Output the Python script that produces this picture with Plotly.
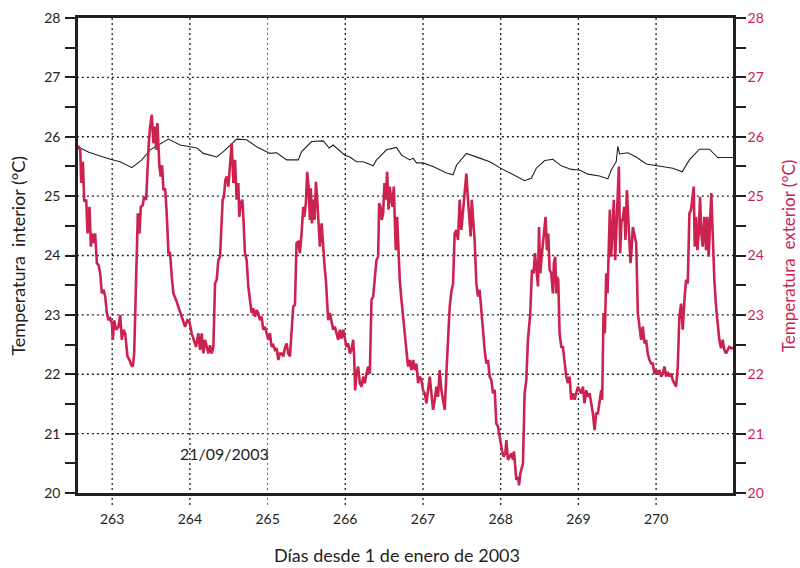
import plotly.graph_objects as go

# ---------------- data ----------------
x_ticks = [263, 264, 265, 266, 267, 268, 269, 270]
y_ticks = [20, 21, 22, 23, 24, 25, 26, 27, 28]
x_range = [262.56, 270.99]
y_range = [20, 28]
marked_day = 265
marked_label = "21/09/2003"
marked_label_day = 264.45
marked_label_temp = 20.67

# interior temperature (day, °C)
interior = [
    (262.56, 25.80), (262.589, 25.81), (262.70, 25.74), (262.888, 25.66), (262.974, 25.62),
    (263.103, 25.58), (263.253, 25.48), (263.382, 25.61), (263.488, 25.78), (263.724, 25.96),
    (263.874, 25.86), (264.089, 25.81), (264.174, 25.72), (264.346, 25.66), (264.431, 25.75),
    (264.603, 25.96), (264.731, 25.95), (264.860, 25.83), (265.031, 25.72), (265.117, 25.73),
    (265.246, 25.61), (265.395, 25.61), (265.438, 25.75), (265.567, 25.92), (265.716, 25.93),
    (265.793, 25.81), (265.844, 25.86), (265.995, 25.69), (266.059, 25.66), (266.145, 25.58),
    (266.230, 25.58), (266.359, 25.51), (266.402, 25.61), (266.531, 25.78), (266.659, 25.82),
    (266.724, 25.69), (266.830, 25.61), (266.873, 25.64), (266.916, 25.56), (267.001, 25.56),
    (267.130, 25.50), (267.302, 25.39), (267.387, 25.36), (267.431, 25.52), (267.559, 25.72),
    (267.730, 25.64), (267.859, 25.58), (267.987, 25.48), (268.116, 25.39), (268.158, 25.37),
    (268.308, 25.26), (268.394, 25.30), (268.459, 25.47), (268.566, 25.60), (268.672, 25.62),
    (268.780, 25.51), (268.909, 25.45), (269.015, 25.44), (269.122, 25.37), (269.272, 25.34),
    (269.379, 25.29), (269.423, 25.44), (269.487, 25.58), (269.508, 25.84), (269.530, 25.71),
    (269.636, 25.73), (269.744, 25.66), (269.873, 25.54), (270.087, 25.50), (270.215, 25.47),
    (270.335, 25.41), (270.429, 25.61), (270.558, 25.79), (270.686, 25.79), (270.793, 25.65),
    (270.99, 25.65),
]

# exterior temperature (day, °C)
exterior = [
    (262.560, 25.85), (262.567, 25.83), (262.589, 25.78), (262.601, 25.22), (262.623, 25.58),
    (262.640, 24.91), (262.666, 24.94), (262.683, 24.37), (262.708, 24.82), (262.726, 24.15),
    (262.743, 24.37), (262.760, 24.21), (262.781, 24.37), (262.803, 23.87), (262.824, 23.84),
    (262.846, 23.70), (262.867, 23.36), (262.888, 23.42), (262.910, 23.31), (262.931, 23.03),
    (262.953, 22.91), (262.974, 22.94), (262.996, 22.86), (263.008, 22.58), (263.025, 22.91),
    (263.051, 22.75), (263.081, 22.80), (263.103, 23.00), (263.124, 22.58), (263.145, 22.75),
    (263.167, 22.69), (263.197, 22.30), (263.223, 22.24), (263.244, 22.16), (263.265, 22.13),
    (263.283, 22.35), (263.304, 23.25), (263.317, 24.21), (263.330, 24.71), (263.351, 24.37),
    (263.368, 24.82), (263.394, 24.85), (263.411, 24.99), (263.437, 24.94), (263.454, 25.50),
    (263.471, 25.89), (263.488, 26.17), (263.510, 26.37), (263.531, 25.89), (263.552, 26.17),
    (263.565, 25.78), (263.582, 26.23), (263.608, 25.50), (263.625, 25.33), (263.642, 25.52),
    (263.660, 25.10), (263.681, 25.13), (263.702, 24.71), (263.724, 24.04), (263.745, 24.04),
    (263.767, 23.64), (263.788, 23.36), (263.822, 23.25), (263.852, 23.14), (263.874, 23.03),
    (263.916, 22.91), (263.938, 22.80), (263.968, 22.91), (263.993, 22.89), (264.023, 22.69),
    (264.053, 22.58), (264.079, 22.46), (264.109, 22.69), (264.131, 22.41), (264.152, 22.69),
    (264.174, 22.35), (264.195, 22.58), (264.216, 22.46), (264.238, 22.35), (264.259, 22.49),
    (264.281, 22.35), (264.302, 22.46), (264.324, 23.53), (264.345, 23.59), (264.366, 23.92),
    (264.388, 23.98), (264.409, 24.60), (264.422, 24.94), (264.439, 24.99), (264.456, 25.27),
    (264.474, 25.33), (264.495, 25.16), (264.508, 25.38), (264.525, 25.61), (264.538, 25.89),
    (264.551, 25.50), (264.559, 25.22), (264.581, 25.61), (264.602, 24.94), (264.623, 25.22),
    (264.636, 24.65), (264.653, 24.88), (264.675, 24.94), (264.688, 24.65), (264.709, 24.04),
    (264.731, 23.92), (264.752, 23.48), (264.773, 23.25), (264.795, 23.03), (264.816, 23.11),
    (264.838, 22.97), (264.859, 23.08), (264.880, 23.03), (264.902, 22.91), (264.923, 22.97),
    (264.945, 22.75), (264.966, 22.80), (264.988, 22.69), (265.009, 22.58), (265.030, 22.69),
    (265.052, 22.46), (265.073, 22.49), (265.095, 22.41), (265.116, 22.44), (265.138, 22.24),
    (265.159, 22.35), (265.180, 22.35), (265.202, 22.30), (265.223, 22.44), (265.245, 22.52),
    (265.266, 22.35), (265.288, 22.30), (265.309, 22.69), (265.330, 23.14), (265.352, 23.17),
    (265.373, 24.21), (265.395, 24.23), (265.416, 24.04), (265.437, 24.37), (265.459, 24.82),
    (265.472, 24.65), (265.493, 24.88), (265.510, 25.41), (265.527, 25.16), (265.545, 24.60),
    (265.557, 25.13), (265.570, 24.54), (265.587, 24.94), (265.605, 24.60), (265.622, 25.24),
    (265.639, 24.94), (265.656, 24.60), (265.673, 24.15), (265.695, 24.54), (265.716, 24.04),
    (265.737, 23.76), (265.750, 23.59), (265.767, 23.14), (265.780, 22.91), (265.802, 23.03),
    (265.823, 22.86), (265.844, 22.75), (265.866, 22.80), (265.887, 22.69), (265.909, 22.58),
    (265.930, 22.75), (265.952, 22.60), (265.973, 22.75), (265.994, 22.63), (266.016, 22.46),
    (266.037, 22.52), (266.059, 22.35), (266.080, 22.41), (266.102, 22.58), (266.114, 22.30),
    (266.127, 21.73), (266.144, 22.01), (266.166, 22.13), (266.187, 21.85), (266.209, 21.79),
    (266.230, 21.96), (266.251, 21.85), (266.273, 22.01), (266.294, 22.13), (266.316, 22.01),
    (266.337, 23.25), (266.359, 23.31), (266.380, 23.64), (266.401, 23.92), (266.423, 23.98),
    (266.436, 24.88), (266.453, 24.82), (266.470, 24.60), (266.487, 24.71), (266.504, 25.22),
    (266.521, 24.94), (266.539, 25.41), (266.556, 24.77), (266.573, 25.16), (266.590, 24.94),
    (266.607, 24.82), (266.624, 25.16), (266.637, 24.37), (266.650, 24.09), (266.667, 24.65),
    (266.684, 24.15), (266.701, 23.59), (266.723, 23.25), (266.744, 22.97), (266.761, 22.69),
    (266.787, 22.46), (266.808, 22.13), (266.830, 22.24), (266.851, 22.07), (266.873, 22.24),
    (266.894, 22.07), (266.915, 22.18), (266.937, 21.85), (266.958, 21.96), (266.980, 21.90),
    (267.001, 21.73), (267.023, 21.68), (267.044, 21.51), (267.065, 21.73), (267.087, 21.96),
    (267.108, 21.68), (267.130, 21.40), (267.151, 21.57), (267.173, 21.79), (267.194, 21.62),
    (267.215, 22.07), (267.237, 21.73), (267.258, 21.57), (267.280, 21.40), (267.301, 22.01),
    (267.322, 22.69), (267.344, 23.14), (267.365, 23.39), (267.387, 23.53), (267.408, 24.37),
    (267.429, 24.43), (267.451, 24.26), (267.472, 24.94), (267.494, 24.43), (267.515, 24.71),
    (267.537, 25.10), (267.558, 25.38), (267.579, 24.94), (267.601, 24.60), (267.614, 24.32),
    (267.627, 24.94), (267.644, 24.65), (267.665, 24.26), (267.687, 23.53), (267.708, 23.31),
    (267.729, 23.42), (267.751, 23.03), (267.772, 22.69), (267.794, 22.41), (267.815, 22.18),
    (267.837, 22.24), (267.858, 21.96), (267.879, 21.90), (267.901, 21.68), (267.923, 21.74),
    (267.944, 21.17), (267.966, 21.12), (267.979, 21.00), (267.996, 20.84), (268.017, 20.72),
    (268.038, 20.61), (268.060, 20.67), (268.073, 20.89), (268.094, 20.56), (268.116, 20.61),
    (268.137, 20.67), (268.158, 20.56), (268.171, 20.70), (268.188, 20.44), (268.201, 20.22),
    (268.223, 20.27), (268.236, 20.13), (268.253, 20.33), (268.270, 20.44), (268.287, 20.50),
    (268.308, 21.68), (268.330, 21.90), (268.351, 22.58), (268.373, 23.03), (268.381, 23.03),
    (268.403, 23.76), (268.424, 23.70), (268.441, 24.04), (268.458, 23.81), (268.480, 23.48),
    (268.493, 24.48), (268.510, 23.70), (268.527, 23.98), (268.544, 24.21), (268.561, 24.37),
    (268.578, 24.65), (268.595, 24.09), (268.612, 24.37), (268.630, 23.76), (268.651, 23.70),
    (268.672, 23.36), (268.685, 23.87), (268.702, 23.98), (268.715, 23.36), (268.724, 23.64),
    (268.741, 23.59), (268.758, 22.69), (268.780, 22.46), (268.801, 22.46), (268.822, 22.18),
    (268.844, 21.96), (268.865, 21.85), (268.887, 21.96), (268.908, 21.57), (268.930, 21.68),
    (268.951, 21.57), (268.972, 21.68), (268.994, 21.79), (269.015, 21.73), (269.037, 21.68),
    (269.058, 21.79), (269.079, 21.51), (269.101, 21.73), (269.122, 21.62), (269.144, 21.68),
    (269.165, 21.51), (269.187, 21.34), (269.208, 21.06), (269.229, 21.34), (269.251, 21.34),
    (269.272, 21.51), (269.294, 21.73), (269.306, 21.57), (269.324, 23.03), (269.341, 22.69),
    (269.358, 23.70), (269.375, 23.36), (269.392, 24.26), (269.405, 24.77), (269.422, 23.98),
    (269.444, 24.65), (269.456, 24.94), (269.474, 23.92), (269.486, 24.48), (269.504, 24.94),
    (269.521, 25.50), (269.538, 24.04), (269.555, 24.60), (269.572, 24.60), (269.589, 24.82),
    (269.606, 24.26), (269.624, 25.10), (269.641, 24.60), (269.658, 24.32), (269.671, 23.87),
    (269.684, 24.09), (269.701, 24.48), (269.718, 24.37), (269.744, 24.21), (269.765, 23.03),
    (269.786, 22.75), (269.808, 22.58), (269.829, 22.80), (269.851, 22.52), (269.872, 22.58),
    (269.893, 22.35), (269.915, 22.24), (269.936, 22.18), (269.958, 22.18), (269.979, 22.01),
    (270.000, 22.07), (270.022, 22.01), (270.043, 22.07), (270.065, 21.96), (270.086, 22.01),
    (270.108, 22.13), (270.129, 21.96), (270.150, 22.04), (270.172, 21.96), (270.193, 22.01),
    (270.215, 21.90), (270.236, 21.85), (270.258, 21.79), (270.279, 22.13), (270.300, 22.97),
    (270.322, 23.19), (270.343, 22.75), (270.365, 23.25), (270.386, 23.59), (270.408, 23.53),
    (270.429, 24.71), (270.450, 24.77), (270.472, 24.99), (270.485, 25.16), (270.497, 24.15),
    (270.515, 24.65), (270.532, 24.09), (270.549, 24.37), (270.566, 24.99), (270.583, 24.37),
    (270.600, 24.15), (270.622, 24.65), (270.643, 24.09), (270.660, 24.65), (270.677, 23.98),
    (270.694, 24.60), (270.711, 25.05), (270.729, 24.37), (270.750, 23.59), (270.772, 23.14),
    (270.793, 22.80), (270.814, 22.58), (270.836, 22.44), (270.857, 22.58), (270.879, 22.41),
    (270.900, 22.35), (270.922, 22.41), (270.943, 22.46), (270.965, 22.44), (270.990, 22.44),
]

# ---------------- styles ----------------
DARK = "#231f20"
RED = "#cc2250"
FONT = "Lato, 'Open Sans', sans-serif"

fig = go.Figure()

fig.add_trace(go.Scatter(
    x=[d for d, _ in interior], y=[t for _, t in interior],
    mode="lines", line=dict(color=DARK, width=1.1),
    name="Temperatura interior", yaxis="y", showlegend=False,
))
fig.add_trace(go.Scatter(
    x=[d for d, _ in exterior], y=[t for _, t in exterior],
    mode="lines", line=dict(color=RED, width=2.6),
    name="Temperatura exterior", yaxis="y2", showlegend=False,
))

shapes = []
for t in y_ticks[1:-1]:
    shapes.append(dict(type="line", xref="paper", yref="y", x0=-0.017, x1=1, y0=t, y1=t,
                       line=dict(color=DARK, width=1.3, dash="2px,3px"), layer="below"))
for d in x_ticks:
    col = RED if d == marked_day else DARK
    w = 1.0 if d == marked_day else 1.3
    shapes.append(dict(type="line", xref="x", yref="paper", x0=d, x1=d, y0=-0.025, y1=1,
                       line=dict(color=col, width=w, dash="2px,3px"), layer="below"))

annotations = [
    dict(text=marked_label, x=marked_label_day, y=marked_label_temp, xref="x", yref="y",
         showarrow=False, font=dict(size=16, color=DARK, family=FONT)),
    dict(text="Días desde 1 de enero de 2003", x=0.487, y=-0.13, xref="paper", yref="paper",
         showarrow=False, xanchor="center", yanchor="middle",
         font=dict(size=18, color=DARK, family=FONT)),
    dict(text="Temperatura  interior (°C)", x=-0.093, y=0.5, xref="paper", yref="paper",
         showarrow=False, textangle=-90, xanchor="center", yanchor="middle",
         font=dict(size=18, color=DARK, family=FONT)),
    dict(text="Temperatura  exterior (°C)", x=1.085, y=0.5, xref="paper", yref="paper",
         showarrow=False, textangle=-90, xanchor="center", yanchor="middle",
         font=dict(size=17, color=RED, family=FONT)),
]

minor_ticks = dict(ticks="outside", ticklen=10, tickwidth=1.5, tickcolor=DARK,
                   dtick=0.5, tick0=20, showgrid=False)

fig.update_layout(
    width=800, height=568, autosize=False,
    margin=dict(l=78, r=67, t=18, b=75, autoexpand=False),
    paper_bgcolor="white", plot_bgcolor="rgba(0,0,0,0)",
    font=dict(family=FONT, size=14, color=DARK),
    showlegend=False,
    shapes=shapes, annotations=annotations,
    xaxis=dict(range=x_range, tickvals=x_ticks, ticks="outside", ticklen=11,
               tickcolor="rgba(0,0,0,0)", showgrid=False, zeroline=False,
               showline=True, linecolor=DARK, linewidth=2.5, mirror=True,
               automargin=False, tickfont=dict(size=14, color=DARK)),
    yaxis=dict(range=y_range, tickvals=y_ticks, ticks="outside", ticklen=12,
               tickcolor="rgba(0,0,0,0)", showgrid=False, zeroline=False,
               showline=True, linecolor=DARK, linewidth=2.5, mirror=True,
               automargin=False, minor=minor_ticks, tickfont=dict(size=14, color=DARK)),
    yaxis2=dict(range=y_range, tickvals=y_ticks, overlaying="y", side="right",
                ticks="outside", ticklen=9, tickcolor="rgba(0,0,0,0)",
                showgrid=False, zeroline=False, showline=True, linecolor=DARK,
                linewidth=2.5, automargin=False, minor=minor_ticks,
                tickfont=dict(size=14, color=RED)),
)

fig.write_html("out.html", config={"displayModeBar": False, "responsive": False},
               post_script="document.body.style.margin='0';")
